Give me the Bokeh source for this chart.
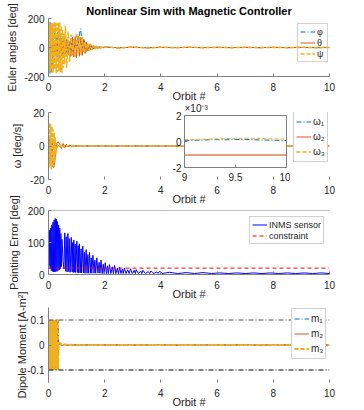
import numpy as np
from bokeh.plotting import figure
from bokeh.models import Range1d, FixedTicker, Legend, LegendItem, Span
from bokeh.layouts import column
from bokeh.embed import file_html
from bokeh.resources import INLINE

# ---------------- data ----------------
ORBIT_SPAN = [0, 10]
X_TICKS = [0, 2, 4, 6, 8, 10]

# Euler angles [deg]
T_EUL = np.concatenate([np.arange(24) * 0.025, 0.6 + np.arange(28) * 0.05, 2.0 + np.arange(17) * 0.5])
PHI = [-175, 170, -178, 175, -170, 165, -120, 90, -80, 100, -60, 85, -70, 110, -90, 120, -75, 95, -60, 70, -50, 60, -40, 55,
       40, -35, 50, -30, 45, -40, 60, -25, 35, -20, 95, 130, -15, 60, 30, -20, 25, -15, 20, -12, 15, -10, 10, -8, 6, -5, 4, -3,
       3, -2, 2, -1, 1, -1, 1, -1, 1, -1, 1, -1, 1, -1, 1, -1, 0]
THETA = [-20, 40, -60, 30, -45, 50, -30, 60, -40, 35, -55, 45, -25, 40, -35, 50, -60, 30, -45, 55, -70, 65, -40, 50,
         -45, 55, -50, 40, -60, 70, -65, 75, -70, 80, -60, 70, -55, 50, -40, 35, -25, 20, -15, 12, -10, 8, -6, 5, -4, 3, -2, 2,
         3, -2, 2, -2, 1, -1, 1, -1, 1, -1, 1, -1, 1, -1, 1, -1, 0]
PSI = [150, -170, 175, -160, 168, -175, 160, -172, 178, -150, 170, -178, 165, -168, 172, -160, 176, -170, 150, -175, 125, -140, 95, -115,
       150, -140, 110, -100, 90, -60, 55, -70, 100, -35, 80, -50, 75, -40, 40, -30, 30, -22, 25, -18, 15, -12, 12, -10, 8, -6, 5, -4,
       5, -4, 3, -3, 2, -2, 2, -1, 1, -1, 1, -1, 1, -1, 1, -1, 0]
EUL_TICKS = [-200, 0, 200]

# Body rates [deg/s]
T_OMG = np.concatenate([np.arange(16) * 0.02, 0.34 + np.arange(20) * 0.06, 2.0 + np.arange(9) * 1.0])
W1 = [2, -3, 4, -2, 3, -4, 5, -3, 4, -2, 3, -1, 2, -1, 1, 0.5,
      0.5, -0.3, 0.4, -0.3, 0.3, -0.2, 0.2, -0.2, 0.1, -0.1, 0.1, -0.1, 0.1, -0.1, 0.05, -0.05, 0.05, 0, 0, 0,
      0, 0, 0, 0, 0, 0, 0, 0, 0]
W2 = [-5, 6, -8, 5, -9, 4, -10, 2, -12, -13, -12, -10, -7, -4, -1, 1.5,
      2.5, 1, -1.5, 1.5, -1, 1, -0.6, 0.6, -0.4, 0.4, -0.3, 0.3, -0.2, 0.2, -0.1, 0.1, -0.1, 0.05, 0, 0,
      0, 0, 0, 0, 0, 0, 0, 0, 0]
W3 = [13, -13, 14, -12, 13, -14, 12, -13, 10, -12, 8, -9, 5, -5, 2, -1,
      1, -0.5, 0.8, -0.6, 0.5, -0.4, 0.4, -0.3, 0.3, -0.3, 0.2, -0.2, 0.2, -0.1, 0.1, -0.1, 0.1, -0.1, 0.1, 0,
      0.1, -0.1, 0.1, -0.1, 0.1, -0.1, 0.1, -0.1, 0]
OMG_TICKS = [-20, 0, 20]

# Inset: last orbit, values in units of 1e-3 deg/s
T_ZOOM = 9.0 + np.arange(11) * 0.1
W1_ZOOM = [0.08, 0.10, 0.12, 0.14, 0.13, 0.15, 0.16, 0.13, 0.11, 0.09, 0.08]
W2_ZOOM = [-1.03, -1.03, -1.04, -1.03, -1.03, -1.04, -1.03, -1.03, -1.04, -1.03, -1.03]
W3_ZOOM = [0.13, 0.15, 0.18, 0.20, 0.22, 0.24, 0.26, 0.25, 0.22, 0.20, 0.19]
ZOOM_X_TICKS = [9, 9.5, 10]
ZOOM_Y_TICKS = [-2, 0, 2]

# Pointing error [deg]
T_PE_A = np.arange(25) * 0.02
PE_A = [135, 28, 138, 18, 145, 12, 155, 10, 163, 8, 170, 8, 175, 9, 173, 10, 165, 12, 155, 15, 145, 18, 128, 25, 110]
T_PE_B = [0.52, 0.55, 0.58, 0.61, 0.63, 0.66, 0.69, 0.72, 0.74, 0.77, 0.81, 0.84, 0.86, 0.88, 0.90, 0.93, 0.95, 0.97, 1.01, 1.04,
          1.06, 1.08, 1.10, 1.13, 1.16, 1.18, 1.22, 1.25, 1.28, 1.30, 1.34, 1.37, 1.40, 1.42, 1.46, 1.49, 1.52, 1.54, 1.58, 1.62,
          1.65, 1.68, 1.72, 1.76, 1.80, 1.83, 1.87, 1.91, 1.95, 1.98, 2.02, 2.06, 2.10, 2.13, 2.17, 2.22, 2.27, 2.31, 2.35, 2.40,
          2.45, 2.49, 2.53, 2.58, 2.63, 2.66, 2.70, 2.76, 2.82, 2.87, 2.92, 2.98, 3.05, 3.09, 3.12, 3.20, 3.28, 3.32, 3.36, 3.45,
          3.55, 3.60, 3.65, 3.75, 3.85, 3.90, 3.95, 4.05]
PE_B = [40, 18, 130, 10, 118, 8, 128, 9, 112, 7, 116, 8, 100, 6, 108, 7, 95, 6, 104, 6,
        90, 5, 96, 5, 80, 5, 88, 5, 70, 4, 78, 4, 62, 4, 69, 4, 52, 4, 60, 4,
        45, 4, 52, 4, 38, 4, 45, 3, 32, 3, 37, 3, 27, 3, 31, 3, 24, 3, 28, 3,
        20, 3, 23, 3, 17, 3, 20, 3, 15, 3, 18, 3, 13, 3, 15, 3, 11, 3, 13, 3,
        9, 3, 11, 3, 8, 3, 10, 3]
T_PE_C = [4.3, 4.6, 4.9, 5.2, 5.5, 5.8, 6.1, 6.4, 6.7, 7.0, 7.3, 7.6, 7.9, 8.2, 8.5, 8.8, 9.1, 9.4, 9.7, 10.0]
PE_C = [7, 3, 6, 3, 6, 3, 5, 3, 5, 3, 5, 3, 5, 3, 5, 3, 5, 3, 5, 3]
CONSTRAINT_DEG = 20
PE_TICKS = [0, 100, 200]

# Dipole moment [A-m^2]
T_DIP = np.concatenate([np.arange(19) * 0.02, 0.38 + np.arange(17) * 0.1, 2.5 + np.arange(16) * 0.5])
M1 = [0.1, -0.1, 0.1, -0.1, 0.1, -0.1, 0.1, -0.1, 0.1, -0.1, 0.1, -0.1, 0.1, -0.1, 0.1, 0.1, 0.1, 0.1, 0.01,
      0.006, 0.003, 0.001, -0.001, 0.001, 0, 0.0005, -0.0005, 0, 0.0005, -0.0005, 0, 0.0005, -0.0005, 0, 0.0005, 0,
      0.0005, -0.0005, 0, 0.0005, -0.0005, 0, 0.0005, -0.0005, 0, 0.0005, -0.0005, 0, 0.0005, -0.0005, 0, 0]
M2 = [-0.1, 0.1, -0.1, -0.1, 0.1, -0.1, 0.1, -0.1, 0.1, -0.1, 0.1, -0.1, 0.1, -0.1, 0.1, -0.1, 0.1, -0.05, 0.005,
      0.004, -0.002, 0.002, -0.001, 0.001, -0.001, 0.001, -0.0005, 0.0005, -0.0005, 0.0005, -0.0005, 0.0005, -0.0005, 0.0005, -0.0005, 0,
      -0.0005, 0.0005, -0.0005, 0.0005, -0.0005, 0.0005, -0.0005, 0.0005, -0.0005, 0.0005, -0.0005, 0.0005, -0.0005, 0.0005, -0.0005, 0]
M3 = [0.1, -0.1, 0.1, -0.1, 0.1, -0.1, 0.1, -0.1, 0.1, -0.1, 0.1, -0.1, 0.1, -0.1, 0.1, -0.1, 0.1, -0.1, 0.003,
      0.008, 0.004, 0.002, 0.001, 0.001, 0.0005, 0.0005, 0, 0.0005, 0, 0.0005, 0, 0.0005, 0, 0.0005, 0, 0,
      0.0005, 0, 0.0005, 0, 0.0005, 0, 0.0005, 0, 0.0005, 0, 0.0005, 0, 0.0005, 0, 0.0005, 0]
DIP_LIMITS = [0.1, -0.1]
DIP_TICKS = [-0.1, 0, 0.1]

# ---------------- style ----------------
FONT = "Liberation Sans"
TXT = "#262626"
AXC = "#808080"
BLUE = "#0072BD"
ORANGE = "#D95319"
YELLOW = "#EDB120"
DASHDOT = "5 2 1 2"
DASHED = "4 2"


def style_axis(ax, standoff, label_standoff):
    ax.axis_line_color = AXC
    ax.major_tick_line_color = AXC
    ax.major_tick_in = 3
    ax.major_tick_out = 0
    ax.minor_tick_line_color = None
    ax.major_label_text_font = FONT
    ax.major_label_text_font_size = "10px"
    ax.major_label_text_color = TXT
    ax.major_label_standoff = standoff
    ax.axis_label_text_font = FONT
    ax.axis_label_text_font_size = "11px"
    ax.axis_label_text_font_style = "normal"
    ax.axis_label_text_color = TXT
    ax.axis_label_standoff = label_standoff


def base_fig(height, top, bottom, yr, yticks, ylabel, ylab_standoff, title=None):
    p = figure(width=364, height=height, x_range=Range1d(*ORBIT_SPAN), y_range=Range1d(*yr),
               output_backend="svg", toolbar_location=None, title=title,
               min_border_left=48, min_border_right=35, min_border_top=top, min_border_bottom=bottom)
    p.border_fill_color = None
    p.background_fill_color = None
    p.outline_line_color = None
    p.grid.visible = False
    xa = p.xaxis[0]
    ya = p.yaxis[0]
    xa.ticker = FixedTicker(ticks=X_TICKS)
    xa.axis_label = "Orbit #"
    style_axis(xa, 6, -4)
    ya.ticker = FixedTicker(ticks=yticks)
    ya.major_label_overrides = {t: str(t) for t in yticks}
    ya.axis_label = ylabel
    style_axis(ya, 4, ylab_standoff)
    return p


def add_legend(p, items, loc, row_h, font_size, bg_alpha):
    leg = Legend(items=[LegendItem(label=l, renderers=[r]) for l, r in items], location=loc,
                 orientation="vertical", glyph_width=15, glyph_height=row_h, label_height=row_h,
                 label_width=8, label_standoff=2, spacing=0, padding=2, margin=0,
                 label_text_font=FONT, label_text_font_size=font_size, label_text_color=TXT,
                 border_line_color="#a6a6a6", border_line_width=1,
                 background_fill_color="white", background_fill_alpha=bg_alpha)
    p.add_layout(leg)


# ---- 1: Euler angles ----
p1 = base_fig(104, 18, 25, (-200, 200), EUL_TICKS, "Euler angles [deg]", 3,
              title="Nonlinear Sim with Magnetic Controller")
p1.title.align = "center"
p1.title.text_font = FONT
p1.title.text_font_size = "11px"
p1.title.text_font_style = "bold"
p1.title.text_color = "#000000"
p1.title.standoff = 3
r_phi = p1.line(T_EUL, PHI, line_color=BLUE, line_width=1, line_dash=DASHDOT)
r_th = p1.line(T_EUL, THETA, line_color=ORANGE, line_width=1)
r_psi = p1.line(T_EUL, PSI, line_color=YELLOW, line_width=1.5, line_dash=DASHED)
add_legend(p1, [("φ", r_phi), ("θ", r_th), ("ψ", r_psi)], (249, 14), 11, "9px", 0)

# ---- 2: body rates ----
p2 = base_fig(103, 8, 24, (-20, 20), OMG_TICKS, "ω [deg/s]", 4)
p2.xaxis[0].axis_line_alpha = 0
r_w1 = p2.line(T_OMG, W1, line_color=BLUE, line_width=1, line_dash=DASHDOT)
r_w2 = p2.line(T_OMG, W2, line_color=ORANGE, line_width=1)
r_w3 = p2.line(T_OMG, W3, line_color=YELLOW, line_width=1.5, line_dash=DASHED)
add_legend(p2, [("ω₁", r_w1), ("ω₂", r_w2), ("ω₃", r_w3)], (245, 17), 15, "10px", 1)

# ---- inset (zoom on the last orbit) ----
pz = figure(width=126, height=88, x_range=Range1d(9, 10), y_range=Range1d(-2, 2),
            output_backend="svg", toolbar_location=None, title="×10⁻³", frame_align=False,
            min_border_left=20, min_border_right=4, min_border_top=18, min_border_bottom=18)
pz.background_fill_color = "white"
pz.border_fill_color = None
pz.outline_line_color = AXC
pz.grid.visible = False
pz.title.align = "left"
pz.title.text_font = FONT
pz.title.text_font_size = "10px"
pz.title.text_font_style = "normal"
pz.title.text_color = TXT
pz.title.standoff = 4
pz.xaxis[0].ticker = FixedTicker(ticks=ZOOM_X_TICKS)
pz.xaxis[0].major_label_overrides = {9: "9", 9.5: "9.5", 10: "10"}
style_axis(pz.xaxis[0], 5, 0)
pz.yaxis[0].ticker = FixedTicker(ticks=ZOOM_Y_TICKS)
pz.yaxis[0].major_label_overrides = {t: str(t) for t in ZOOM_Y_TICKS}
style_axis(pz.yaxis[0], 3, 0)
pz.line(T_ZOOM, W1_ZOOM, line_color=BLUE, line_width=1, line_dash=DASHDOT)
pz.line(T_ZOOM, W2_ZOOM, line_color=ORANGE, line_width=1.5, line_alpha=0.75)
pz.line(T_ZOOM, W3_ZOOM, line_color=YELLOW, line_width=1, line_dash=DASHED)
pz.margin = (-110, 0, 0, 164)

# ---- 3: pointing error ----
p3 = base_fig(108, 16, 24, (0, 200), PE_TICKS, "Pointing Error [deg]", 5)
p3.add_layout(Span(location=PE_TICKS[-1], dimension="width", line_color=AXC, line_width=1))
pe_t = np.concatenate([T_PE_A, T_PE_B, T_PE_C])
pe_v = np.concatenate([PE_A, PE_B, PE_C])
r_pe = p3.line(pe_t, pe_v, line_color="#0000FF", line_width=1)
r_con = p3.line(ORBIT_SPAN, [CONSTRAINT_DEG, CONSTRAINT_DEG], line_color="#FF0000", line_width=1, line_dash="4 3")
add_legend(p3, [("INMS sensor", r_pe), ("constraint", r_con)], (201, 30), 11, "9px", 1)
p3.margin = (9, 0, 0, 0)

# ---- 4: dipole ----
p4 = base_fig(121, 18, 27, (-0.15, 0.15), DIP_TICKS, "Dipole Moment [A-m²]", -4)
p4.xaxis[0].axis_line_alpha = 0
p4.yaxis[0].major_label_overrides = {0.1: "0.1", 0: "0", -0.1: "-0.1"}
r_m1 = p4.line(T_DIP, M1, line_color=BLUE, line_width=1, line_dash=DASHDOT)
r_m2 = p4.line(T_DIP, M2, line_color=ORANGE, line_width=1)
r_m3 = p4.line(T_DIP, M3, line_color=YELLOW, line_width=2, line_dash=DASHED)
p4.line(ORBIT_SPAN, [DIP_LIMITS[0]] * 2, line_color="#555555", line_width=1, line_dash=DASHDOT)
p4.line(ORBIT_SPAN, [DIP_LIMITS[1]] * 2, line_color="#000000", line_width=1, line_dash=DASHDOT)
add_legend(p4, [("m₁", r_m1), ("m₂", r_m2), ("m₃", r_m3)], (243, 23), 15, "10px", 1)
p4.margin = (-13, 0, 0, 0)

layout = column(p1, p2, pz, p3, p4)
open("out.html", "w").write(file_html(layout, INLINE))
